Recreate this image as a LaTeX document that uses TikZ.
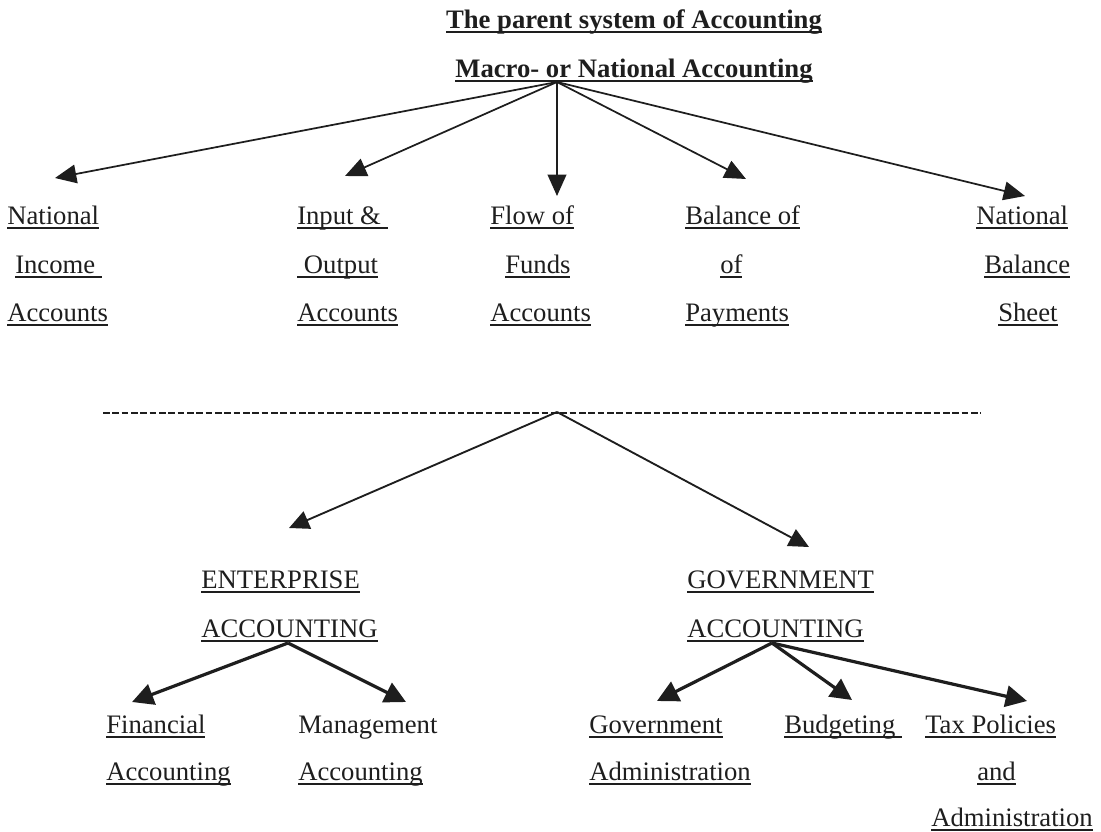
\documentclass[tikz,border=0pt]{standalone}
\usepackage{fontspec}
\setmainfont{Liberation Serif}
\usetikzlibrary{arrows.meta}
\definecolor{ink}{HTML}{1E1E1E}
\newcommand\myul[1]{\setbox0\hbox{#1}\rlap{\color{ink}\rule[-3.8pt]{\wd0}{1.5pt}}\box0}
\begin{document}
\begin{tikzpicture}[x=0.75pt,y=-0.75pt,
  lbl/.style={inner sep=0pt,anchor=base west,text=ink,font=\fontsize{20pt}{24pt}\selectfont},
  ttl/.style={inner sep=0pt,anchor=base,text=ink,font=\fontsize{20pt}{24pt}\selectfont\bfseries},
  thinarrow/.style={draw=ink,line width=1.3pt,-{Triangle[length=16pt,width=14pt]}},
  midarrow/.style={draw=ink,line width=1.4pt,-{Triangle[length=15pt,width=14pt]}},
  thickarrow/.style={draw=ink,line width=2.4pt,-{Triangle[length=16pt,width=16pt]}},
  dashline/.style={draw=ink,line width=1.6pt,dash pattern=on 5pt off 2pt}]
\useasboundingbox (0,0) rectangle (1101,832);
\fill[white] (0,0) rectangle (1101,832);

% titles
\node[ttl] (title) at (634,28) {\myul{The parent system of Accounting}};
\node[ttl] (macro) at (634,77) {\myul{Macro- or National Accounting}};
\coordinate (src) at (557,82);

% top row
\node[lbl] (ni1) at (7,224) {\myul{National}};
\node[lbl] (ni2) at (15,273) {\myul{Income\ }};
\node[lbl] (ni3) at (7,321) {\myul{Accounts}};

\node[lbl] (io1) at (297,224) {\myul{Input \&\ }};
\node[lbl] (io2) at (297,273) {\myul{\ Output}};
\node[lbl] (io3) at (297,321) {\myul{Accounts}};

\node[lbl] (ff1) at (490,224) {\myul{Flow of}};
\node[lbl] (ff2) at (505,273) {\myul{Funds}};
\node[lbl] (ff3) at (490,321) {\myul{Accounts}};

\node[lbl] (bp1) at (685,224) {\myul{Balance of}};
\node[lbl] (bp2) at (720,273) {\myul{of}};
\node[lbl] (bp3) at (685,321) {\myul{Payments}};

\node[lbl] (nb1) at (976,224) {\myul{National}};
\node[lbl] (nb2) at (984,273) {\myul{Balance}};
\node[lbl] (nb3) at (998,321) {\myul{Sheet}};

\coordinate (niT) at (55,178);
\coordinate (ioT) at (345,176);
\coordinate (ffT) at (557,196);
\coordinate (bpT) at (746,179);
\coordinate (nbT) at (1025,196);

\draw[thinarrow] (src) -- (niT);
\draw[thinarrow] (src) -- (ioT);
\draw[thinarrow] (src) -- (ffT);
\draw[thinarrow] (src) -- (bpT);
\draw[thinarrow] (src) -- (nbT);

% dashed separator
\coordinate (dashL) at (103,413);
\coordinate (dashR) at (981,413);
\coordinate (apex) at (557,412);
\draw[dashline] (dashL) -- (dashR);

% middle row
\node[lbl] (ea1) at (201,588) {\myul{ENTERPRISE}};
\node[lbl] (ea2) at (201,637) {\myul{ACCOUNTING}};
\node[lbl] (ga1) at (687,588) {\myul{GOVERNMENT}};
\node[lbl] (ga2) at (687,637) {\myul{ACCOUNTING}};

\coordinate (eaT) at (289,528);
\coordinate (gaT) at (809,547);
\draw[midarrow] (apex) -- (eaT);
\draw[midarrow] (apex) -- (gaT);

% bottom row
\node[lbl] (fa1) at (106,733) {\myul{Financial}};
\node[lbl] (fa2) at (106,780) {\myul{Accounting}};
\node[lbl] (ma1) at (298,733) {Management};
\node[lbl] (ma2) at (298,780) {\myul{Accounting}};

\node[lbl] (gd1) at (589,733) {\myul{Government}};
\node[lbl] (gd2) at (589,780) {\myul{Administration}};
\node[lbl] (bud) at (784,733) {\myul{Budgeting\ }};
\node[lbl] (tx1) at (925,733) {\myul{Tax Policies}};
\node[lbl] (tx2) at (977,780) {\myul{and}};
\node[lbl] (tx3) at (931,826) {\myul{Administration}};

\coordinate (eaS) at (288,643);
\coordinate (gaS) at (772,643);
\coordinate (faT) at (132,702);
\coordinate (maT) at (406,702);
\coordinate (gdT) at (657,701);
\coordinate (budT) at (852,700);
\coordinate (txT) at (1027,701);

\draw[thickarrow] (eaS) -- (faT);
\draw[thickarrow] (eaS) -- (maT);
\draw[thickarrow] (gaS) -- (gdT);
\draw[thickarrow] (gaS) -- (budT);
\draw[thickarrow] (gaS) -- (txT);
\end{tikzpicture}
\end{document}
